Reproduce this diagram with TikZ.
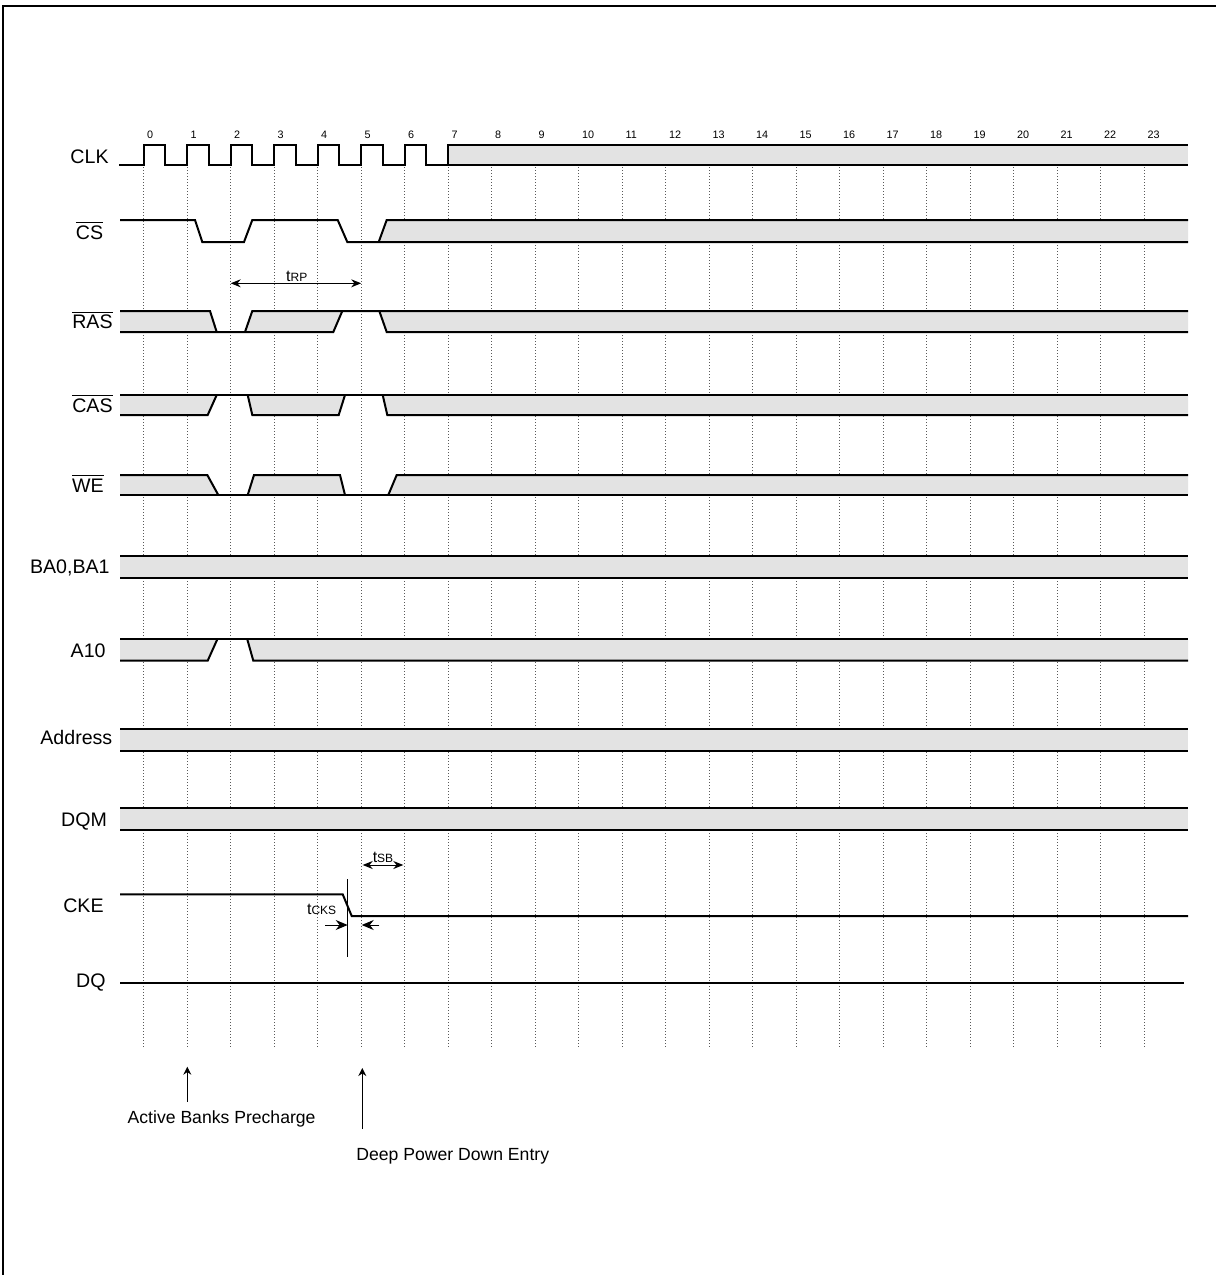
\documentclass[tikz,border=0pt]{standalone}
\usepackage{fontspec}
\setmainfont{Liberation Sans}
\usepackage{tikz}
\usetikzlibrary{arrows.meta,positioning,calc}
\newcommand{\tparam}[1]{{\fontsize{8}{9}\selectfont t}{\fontsize{6}{7}\selectfont #1}}

\begin{document}
\begin{tikzpicture}[
    x=0.5pt, y=-0.5pt,
    sig_line/.style={line width=1pt, draw=black},
    dc_band/.style={fill=black!11},
    grid_line/.style={line width=0.5pt, draw=black!65, dash pattern=on 0.5pt off 1pt},
    sig_name/.style={font=\fontsize{9.8}{11}\selectfont, anchor=base east, inner sep=0pt},
    cycle_num/.style={font=\fontsize{5.4}{6}\selectfont, anchor=west, inner sep=0pt},
    note/.style={font=\fontsize{8.8}{10}\selectfont, anchor=base west, inner sep=0pt},
    dim_arrow/.style={line width=0.5pt, {Stealth[length=5pt,width=4pt]}-{Stealth[length=5pt,width=4pt]}},
    tick_arrow/.style={line width=0.5pt, -{Stealth[length=6pt,width=5pt]}},
    ptr/.style={line width=0.5pt, -{Stealth[length=4pt,width=4pt]}}
]
    \useasboundingbox (0,0) rectangle (1216,1275);
    \draw[line width=1pt] (3.3,1290) -- (3.3,6) -- (1230,6);

    % clock grid and cycle numbers
    \foreach \k in {0,...,23} {
        \draw[grid_line] ({143.7+43.5*\k},167) -- ({143.7+43.5*\k},1048);
        \node[cycle_num] (cyc\k) at ({146.7+43.5*\k},135) {\k};
    }

    % signal names
    \node[sig_name] (clk_lbl) at (109,163) {CLK};
    \node[sig_name] (cs_lbl) at (103.5,239) {$\overline{\mbox{CS}}$};
    \node[sig_name] (ras_lbl) at (113,328.5) {$\overline{\mbox{RAS}}$};
    \node[sig_name] (cas_lbl) at (113,412) {$\overline{\mbox{CAS}}$};
    \node[sig_name] (we_lbl) at (104,492) {$\overline{\mbox{WE}}$};
    \node[sig_name] (ba_lbl) at (110,573.5) {BA0,BA1};
    \node[sig_name] (a10_lbl) at (106,657.5) {A10};
    \node[sig_name] (addr_lbl) at (112.7,744) {Address};
    \node[sig_name] (dqm_lbl) at (107.3,826.5) {DQM};
    \node[sig_name] (cke_lbl) at (104,912) {CKE};
    \node[sig_name] (dq_lbl) at (106,987) {DQ};

    % CLK
    \fill[dc_band] (448,144.7) rectangle (1188,165);
    \draw[sig_line] (119.3,165) \foreach \k in {0,...,6} {
        -- ({143.7+43.5*\k},165) -- ({143.7+43.5*\k},144.7)
        -- ({165.45+43.5*\k},144.7) -- ({165.45+43.5*\k},165) }
        -- (448,165) -- (448,144.7) -- (1188,144.7);
    \draw[sig_line] (448,165) -- (1188,165);

    % CS
    \fill[dc_band] (378.7,242) -- (386.7,220) -- (1188,220) -- (1188,242) -- cycle;
    \draw[sig_line] (120,220) -- (195,220) -- (202.3,242) -- (244,242) -- (252.3,220)
        -- (337.7,220) -- (347.3,242) -- (1188,242);
    \draw[sig_line] (378.7,242) -- (386.7,220) -- (1188,220);

    % RAS
    \fill[dc_band] (120,311) -- (210,311) -- (216.7,332) -- (120,332) -- cycle;
    \fill[dc_band] (245,332) -- (252.3,311) -- (342.3,311) -- (333.3,332) -- cycle;
    \fill[dc_band] (379.3,311) -- (1188,311) -- (1188,332) -- (386.7,332) -- cycle;
    \draw[sig_line] (120,311) -- (210,311) -- (216.7,332);
    \draw[sig_line] (120,332) -- (333.3,332) -- (342.3,311);
    \draw[sig_line] (245,332) -- (252.3,311) -- (1188,311);
    \draw[sig_line] (379.3,311) -- (386.7,332) -- (1188,332);

    % CAS
    \fill[dc_band] (120,395) -- (216.7,395) -- (207.7,415) -- (120,415) -- cycle;
    \fill[dc_band] (247.7,395) -- (345,395) -- (338.7,415) -- (252.3,415) -- cycle;
    \fill[dc_band] (382.7,395) -- (1188,395) -- (1188,415) -- (387.3,415) -- cycle;
    \draw[sig_line] (120,395) -- (1188,395);
    \draw[sig_line] (120,415) -- (207.7,415) -- (216.7,395);
    \draw[sig_line] (247.7,395) -- (252.3,415) -- (338.7,415) -- (345,395);
    \draw[sig_line] (382.7,395) -- (387.3,415) -- (1188,415);

    % WE
    \fill[dc_band] (120,475) -- (207.3,475) -- (218.3,495) -- (120,495) -- cycle;
    \fill[dc_band] (247.7,495) -- (254,475) -- (340,475) -- (345,495) -- cycle;
    \fill[dc_band] (388.3,495) -- (396.7,475) -- (1188,475) -- (1188,495) -- cycle;
    \draw[sig_line] (120,495) -- (1188,495);
    \draw[sig_line] (120,475) -- (207.3,475) -- (218.3,495);
    \draw[sig_line] (247.7,495) -- (254,475) -- (340,475) -- (345,495);
    \draw[sig_line] (388.3,495) -- (396.7,475) -- (1188,475);

    % BA0,BA1 / Address / DQM
    \foreach \yt/\yb in {555.7/577.7, 729.3/750.7, 808.3/830} {
        \fill[dc_band] (120,\yt) rectangle (1188,\yb);
        \draw[sig_line] (120,\yt) -- (1188,\yt) (120,\yb) -- (1188,\yb);
    }

    % A10
    \fill[dc_band] (120,639.3) -- (217.3,639.3) -- (207.7,660.7) -- (120,660.7) -- cycle;
    \fill[dc_band] (247.3,639.3) -- (1188,639.3) -- (1188,660.7) -- (253.3,660.7) -- cycle;
    \draw[sig_line] (120,639.3) -- (1188,639.3);
    \draw[sig_line] (120,660.7) -- (207.7,660.7) -- (217.3,639.3);
    \draw[sig_line] (247.3,639.3) -- (253.3,660.7) -- (1188,660.7);

    % CKE
    \draw[sig_line] (120,894.3) -- (342.7,894.3) -- (351.7,916) -- (1188,916);
    \draw[line width=0.75pt] (347.7,879.3) -- (347.7,957.3);

    % DQ
    \draw[sig_line] (120,982.7) -- (1184,982.7);

    % tRP
    \coordinate (trp_l) at (230.7,283.3);
    \coordinate (trp_r) at (361.2,283.3);
    \draw[dim_arrow] (trp_l) -- (trp_r);
    \node[anchor=base, inner sep=0pt] (trp_lbl) at (296.7,281) {\tparam{RP}};

    % tSB
    \coordinate (tsb_l) at (362.7,865);
    \coordinate (tsb_r) at (403.3,865);
    \draw[dim_arrow] (tsb_l) -- (tsb_r);
    \node[anchor=base, inner sep=0pt] (tsb_lbl) at (383,862.7) {\tparam{SB}};

    % tCKS
    \coordinate (cks_a) at (325,925);
    \coordinate (cks_mark) at (347.7,925);
    \coordinate (cks_b) at (379.3,925);
    \coordinate (cks_g5) at (361.7,925);
    \draw[tick_arrow] (cks_a) -- (cks_mark);
    \draw[tick_arrow] (cks_b) -- (cks_g5);
    \node[anchor=base west, inner sep=0pt] (tcks_lbl) at (306.7,914.7) {\tparam{CKS}};

    % commands
    \node[note] (act_lbl) at (127.3,1123.3) {Active Banks Precharge};
    \coordinate (act_tail) at (187.3,1101.7);
    \coordinate (act_tip) at (187.3,1066.7);
    \draw[ptr] (act_tail) -- (act_tip);

    \node[note] (dpd_lbl) at (356,1160.7) {Deep Power Down Entry};
    \coordinate (dpd_tail) at (362.3,1129);
    \coordinate (dpd_tip) at (362.3,1068);
    \draw[ptr] (dpd_tail) -- (dpd_tip);
\end{tikzpicture}
\end{document}
